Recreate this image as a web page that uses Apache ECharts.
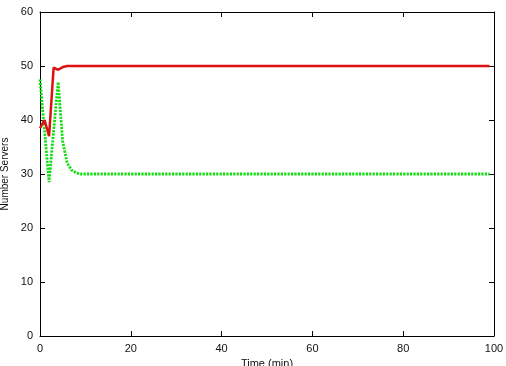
<!DOCTYPE html>
<html>
<head>
<meta charset="utf-8">
<script src="https://cdn.jsdelivr.net/npm/echarts@6/dist/echarts.min.js"></script>
<style>
  html, body { margin: 0; padding: 0; background: #fff; }
  #chart { width: 506px; height: 366px; }
</style>
</head>
<body>
<div id="chart"></div>
<script>
// servers over time, one sample per minute
const xTicks = [0, 20, 40, 60, 80, 100];
const yTicks = [0, 10, 20, 30, 40, 50, 60];

const redServers = [
  38.5, 40, 37, 49.7, 49.3, 49.8, 50, 50, 50, 50,
  50, 50, 50, 50, 50, 50, 50, 50, 50, 50,
  50, 50, 50, 50, 50, 50, 50, 50, 50, 50,
  50, 50, 50, 50, 50, 50, 50, 50, 50, 50,
  50, 50, 50, 50, 50, 50, 50, 50, 50, 50,
  50, 50, 50, 50, 50, 50, 50, 50, 50, 50,
  50, 50, 50, 50, 50, 50, 50, 50, 50, 50,
  50, 50, 50, 50, 50, 50, 50, 50, 50, 50,
  50, 50, 50, 50, 50, 50, 50, 50, 50, 50,
  50, 50, 50, 50, 50, 50, 50, 50, 50, 50
];

const greenServers = [
  47.5, 38, 28.5, 38, 47, 36, 32, 30.7, 30.2, 30,
  30, 30, 30, 30, 30, 30, 30, 30, 30, 30,
  30, 30, 30, 30, 30, 30, 30, 30, 30, 30,
  30, 30, 30, 30, 30, 30, 30, 30, 30, 30,
  30, 30, 30, 30, 30, 30, 30, 30, 30, 30,
  30, 30, 30, 30, 30, 30, 30, 30, 30, 30,
  30, 30, 30, 30, 30, 30, 30, 30, 30, 30,
  30, 30, 30, 30, 30, 30, 30, 30, 30, 30,
  30, 30, 30, 30, 30, 30, 30, 30, 30, 30,
  30, 30, 30, 30, 30, 30, 30, 30, 30, 30
];

const FONT = '"Liberation Sans", Arial, sans-serif';
const toPairs = arr => arr.map((v, i) => [i, v]);

function axisBase(show) {
  return {
    type: 'value',
    axisLine: { show: true, onZero: false, lineStyle: { color: '#000', width: 1 } },
    axisTick: { show: true, inside: true, length: 5, lineStyle: { color: '#000', width: 1 } },
    axisLabel: { show: show, color: '#111', fontFamily: FONT, fontSize: 11, margin: 7 },
    splitLine: { show: false }
  };
}

const chart = echarts.init(document.getElementById('chart'), null, { renderer: 'canvas' });
chart.setOption({
  animation: false,
  backgroundColor: '#fff',
  grid: { left: 40, right: 12, top: 12, bottom: 30, containLabel: false, outerBoundsMode: 'none' },
  xAxis: [
    Object.assign(axisBase(true), {
      min: xTicks[0], max: xTicks[xTicks.length - 1], interval: 20, position: 'bottom',
      name: 'Time (min)', nameLocation: 'middle', nameGap: 21,
      nameTextStyle: { color: '#111', fontFamily: FONT, fontSize: 11 }
    }),
    Object.assign(axisBase(false), {
      min: xTicks[0], max: xTicks[xTicks.length - 1], interval: 20, position: 'top'
    })
  ],
  yAxis: [
    Object.assign(axisBase(true), {
      min: yTicks[0], max: yTicks[yTicks.length - 1], interval: 10, position: 'left',
      name: 'Number Servers', nameLocation: 'middle', nameGap: 28,
      nameTextStyle: { color: '#111', fontFamily: FONT, fontSize: 10 }
    }),
    Object.assign(axisBase(false), {
      min: yTicks[0], max: yTicks[yTicks.length - 1], interval: 10, position: 'right'
    })
  ],
  series: [
    {
      type: 'line', data: toPairs(greenServers), showSymbol: false,
      lineStyle: { color: '#11dd11', width: 2.8, type: [2.2, 1.2] }, z: 2
    },
    {
      type: 'line', data: toPairs(redServers), showSymbol: false,
      lineStyle: { color: '#dd1111', width: 2.5 }, z: 3
    }
  ]
});
</script>
</body>
</html>
